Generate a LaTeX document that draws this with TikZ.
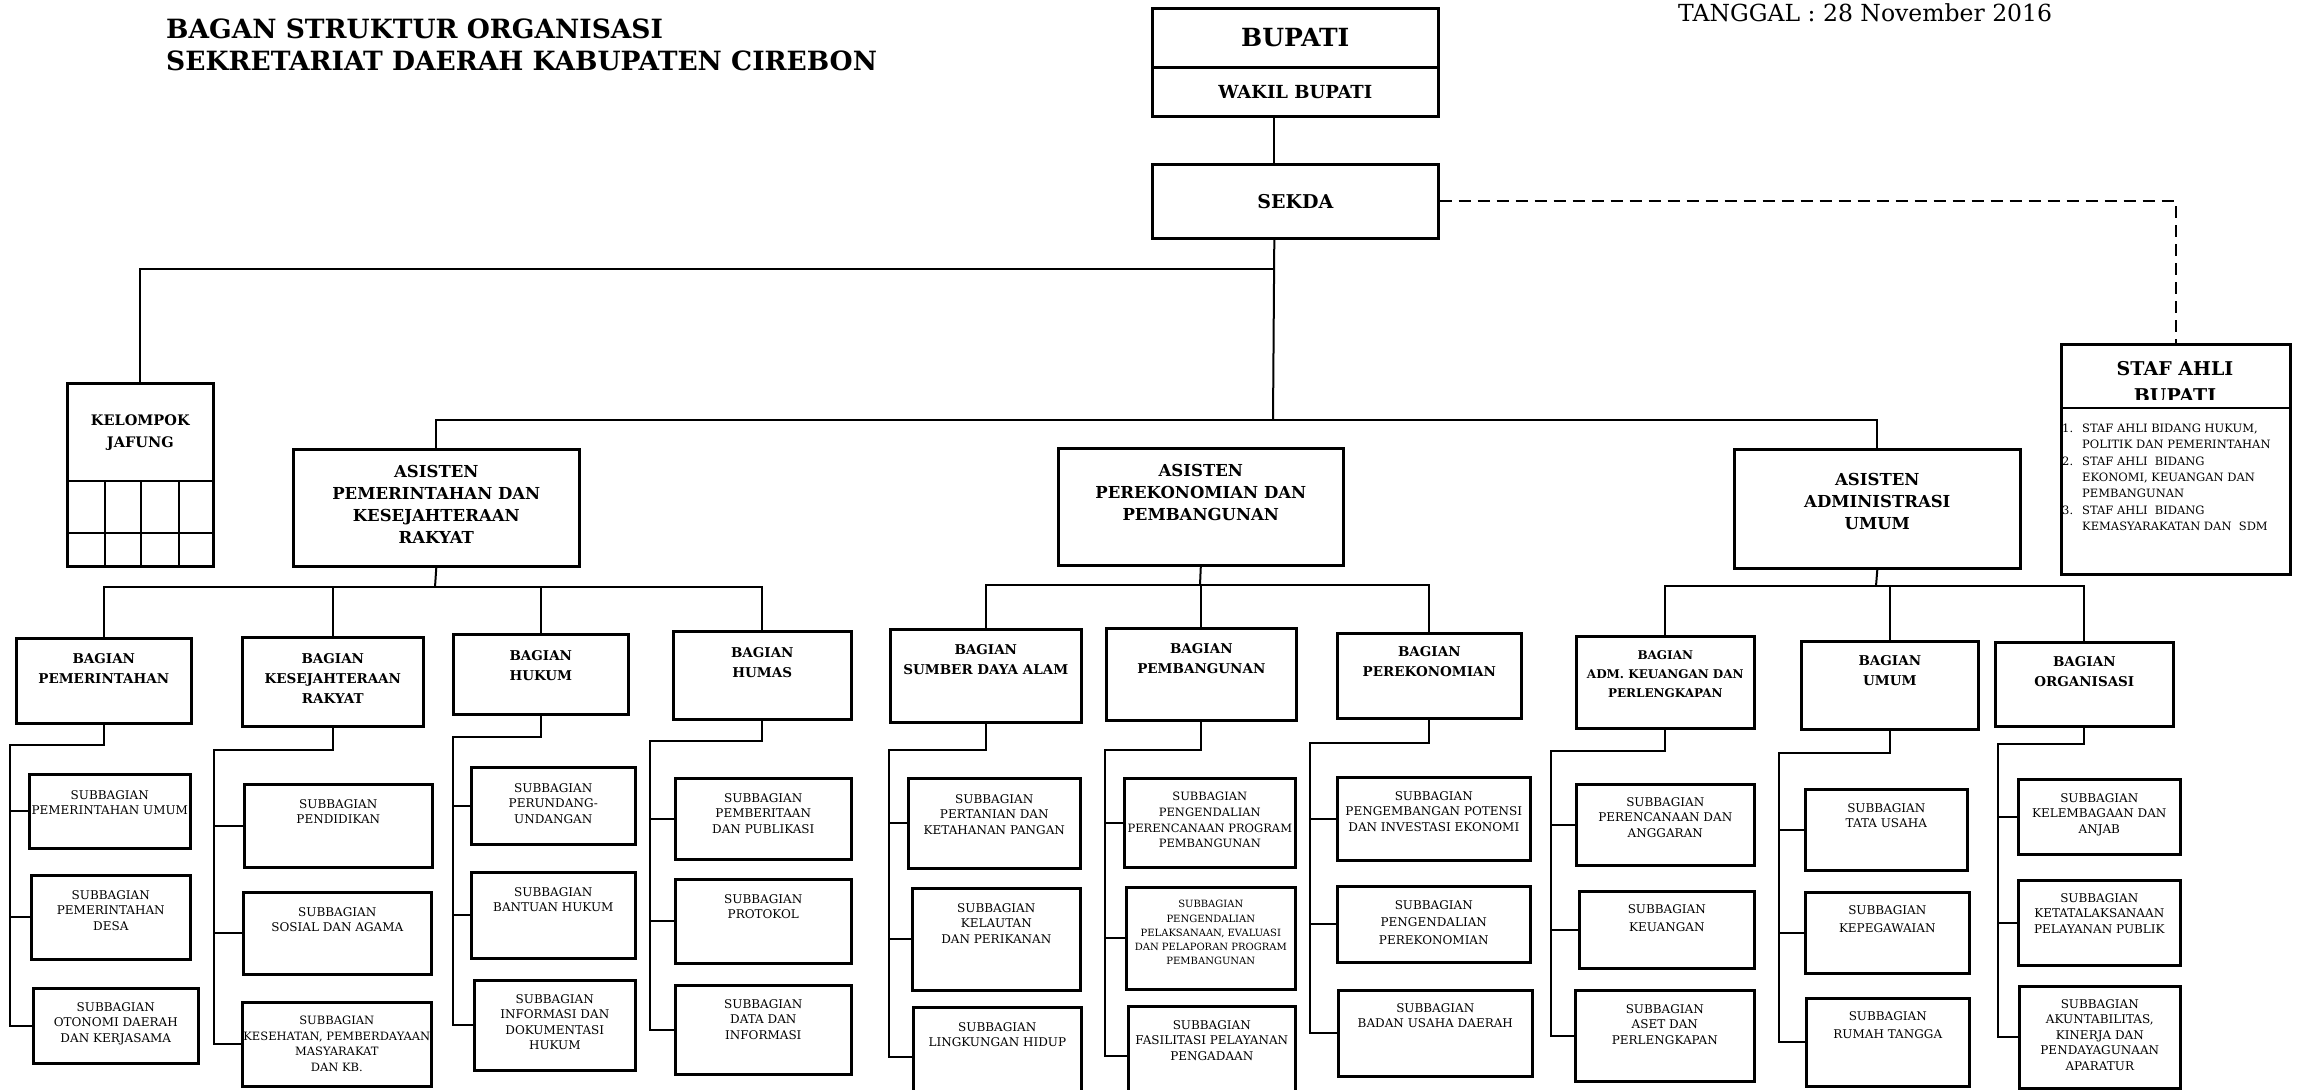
\documentclass[tikz,border=0pt]{standalone}
\usepackage{fontspec}
\setmainfont{DejaVu Serif}
% box text: width, height, top gap, lines
\newcommand{\ubox}[4]{\parbox[c][#2pt][t]{#1pt}{\centering\vspace*{#3pt}#4\par}}

\begin{document}
\begin{tikzpicture}[x=1pt, y=-1pt,
    link/.style={line width=2pt},
    unit/.style={draw, line width=2.6pt, inner sep=0pt, anchor=north west},
    judl/.style={anchor=base west, inner sep=0pt, font=\bfseries\fontsize{26.5}{32}\selectfont},
    asis/.style={unit, font=\bfseries\fontsize{16.5}{22}\selectfont},
    bag/.style={unit, font=\bfseries\fontsize{13.5}{20}\selectfont},
    sub/.style={unit, font=\fontsize{12}{15.5}\selectfont}]
    \useasboundingbox (0,0) rectangle (2298,1089);
    \clip (0,0) rectangle (2298,1089);
    \fill[white] (0,0) rectangle (2298,1089);

    % Heading
    \node[judl] (judul1) at (166,39) {BAGAN STRUKTUR ORGANISASI};
    \node[judl] (judul2) at (166,71) {SEKRETARIAT DAERAH KABUPATEN CIREBON};
    \node[anchor=base west, inner sep=0pt, font=\fontsize{23.5}{27}\selectfont] (tgl) at (1678,22) {TANGGAL : 28 November 2016};

    % Pimpinan
    \node[unit, minimum width=286pt, minimum height=59pt, font=\bfseries\fontsize{25}{30}\selectfont] (bupati) at (1151,7) {BUPATI};
    \node[unit, minimum width=286pt, minimum height=49pt, font=\bfseries\fontsize{18}{22}\selectfont] (wakil) at (1151,66) {WAKIL BUPATI};
    \node[unit, minimum width=286pt, minimum height=74pt, font=\bfseries\fontsize{19}{23}\selectfont] (sekda) at (1151,163) {SEKDA};

    % Kelompok jabatan fungsional
    \node[unit, font=\bfseries\fontsize{14.5}{22}\selectfont] (jafung) at (66,382) {\ubox{146}{183}{31}{KELOMPOK\\JAFUNG}};
    \draw[link] (66,481) -- (212,481);
    \draw[link] (66,533) -- (212,533);
    \draw[link] (105,481) -- (105,565);
    \draw[link] (141,481) -- (141,565);
    \draw[link] (179,481) -- (179,565);

    % Staf ahli
    \node[unit, minimum width=229pt, minimum height=230pt] (staf) at (2060,343) {};
    \draw[link] ([yshift=-65pt]staf.north west) -- ([yshift=-65pt]staf.north east);
    \node[anchor=base, inner sep=0pt, font=\bfseries\fontsize{19}{23}\selectfont] (stafT) at (2175,375) {STAF AHLI};
    \begin{scope}
        \clip (2060,343) rectangle (2289,399);
        \node[anchor=base, inner sep=0pt, font=\bfseries\fontsize{19}{23}\selectfont] (stafB) at (2175,402) {BUPATI};
    \end{scope}
    \node[anchor=north west, inner sep=0pt, font=\fontsize{11.5}{16.3}\selectfont] (stafL) at (2062,421) {\begin{tabular}{@{}p{20pt}@{}l@{}}
        1. & STAF AHLI BIDANG HUKUM,\\
           & POLITIK DAN PEMERINTAHAN\\
        2. & STAF AHLI\ \ BIDANG\\
           & EKONOMI, KEUANGAN DAN\\
           & PEMBANGUNAN\\
        3. & STAF AHLI\ \ BIDANG\\
           & KEMASYARAKATAN DAN\ \ SDM
    \end{tabular}};

    % Asisten
    \node[asis] (asPem) at (292,448) {\ubox{286}{117}{16}{ASISTEN\\PEMERINTAHAN DAN\\KESEJAHTERAAN\\RAKYAT}};
    \node[asis] (asEko) at (1057,447) {\ubox{285}{117}{16}{ASISTEN\\PEREKONOMIAN DAN\\PEMBANGUNAN}};
    \node[asis] (asAdm) at (1733,448) {\ubox{286}{119}{24}{ASISTEN\\ADMINISTRASI\\UMUM}};

    % Bagian
    \node[bag] (bPem) at (15,637) {\ubox{175}{85}{15}{BAGIAN\\PEMERINTAHAN}};
    \node[bag] (bKes) at (241,636) {\ubox{181}{89}{16}{BAGIAN\\KESEJAHTERAAN\\RAKYAT}};
    \node[bag] (bHuk) at (452,633) {\ubox{175}{80}{16}{BAGIAN\\HUKUM}};
    \node[bag] (bHum) at (672,630) {\ubox{178}{88}{16}{BAGIAN\\HUMAS}};
    \node[bag] (bSda) at (889,628) {\ubox{191}{93}{15}{BAGIAN\\SUMBER DAYA ALAM}};
    \node[bag] (bPbg) at (1105,627) {\ubox{190}{92}{15}{BAGIAN\\PEMBANGUNAN}};
    \node[bag] (bPek) at (1336,632) {\ubox{184}{85}{13}{BAGIAN\\PEREKONOMIAN}};
    \node[bag, font=\bfseries\fontsize{12}{19}\selectfont] (bKeu) at (1575,635) {\ubox{178}{92}{14}{BAGIAN\\ADM. KEUANGAN DAN\\PERLENGKAPAN}};
    \node[bag] (bUmu) at (1800,640) {\ubox{177}{88}{14}{BAGIAN\\UMUM}};
    \node[bag] (bOrg) at (1994,641) {\ubox{178}{84}{14}{BAGIAN\\ORGANISASI}};

    % Subbagian
    \node[sub] (sPemUm) at (28,773) {\ubox{161}{74}{16}{SUBBAGIAN\\PEMERINTAHAN UMUM}};
    \node[sub] (sPemDs) at (30,874) {\ubox{159}{84}{15}{SUBBAGIAN\\PEMERINTAHAN\\DESA}};
    \node[sub] (sOtda) at (32,987) {\ubox{165}{75}{14}{SUBBAGIAN\\OTONOMI DAERAH\\DAN KERJASAMA}};

    \node[sub] (sDik) at (243,783) {\ubox{188}{83}{15}{SUBBAGIAN\\PENDIDIKAN}};
    \node[sub] (sSos) at (242,891) {\ubox{188}{82}{15}{SUBBAGIAN\\SOSIAL DAN AGAMA}};
    \node[sub, font=\fontsize{11.5}{15.5}\selectfont] (sKes) at (241,1001) {\ubox{189}{84}{14}{SUBBAGIAN\\KESEHATAN, PEMBERDAYAAN\\MASYARAKAT\\DAN KB.}};

    \node[sub] (sUU) at (470,766) {\ubox{164}{77}{16}{SUBBAGIAN\\PERUNDANG-\\UNDANGAN}};
    \node[sub] (sBan) at (470,871) {\ubox{164}{86}{15}{SUBBAGIAN\\BANTUAN HUKUM}};
    \node[sub] (sInf) at (473,979) {\ubox{161}{90}{14}{SUBBAGIAN\\INFORMASI DAN\\DOKUMENTASI\\HUKUM}};

    \node[sub] (sBer) at (674,777) {\ubox{176}{81}{15}{SUBBAGIAN\\PEMBERITAAN\\DAN PUBLIKASI}};
    \node[sub] (sPro) at (674,878) {\ubox{176}{84}{15}{SUBBAGIAN\\PROTOKOL}};
    \node[sub] (sDat) at (674,984) {\ubox{176}{89}{14}{SUBBAGIAN\\DATA DAN\\INFORMASI}};

    \node[sub] (sTan) at (907,777) {\ubox{172}{90}{16}{SUBBAGIAN\\PERTANIAN DAN\\KETAHANAN PANGAN}};
    \node[sub] (sLaut) at (911,887) {\ubox{168}{102}{15}{SUBBAGIAN\\KELAUTAN\\DAN PERIKANAN}};
    \node[sub] (sLh) at (912,1006) {\ubox{168}{100}{15}{SUBBAGIAN\\LINGKUNGAN HIDUP}};

    \node[sub, font=\fontsize{11.5}{15.7}\selectfont] (sRen) at (1123,777) {\ubox{171}{89}{14}{SUBBAGIAN\\PENGENDALIAN\\PERENCANAAN PROGRAM\\PEMBANGUNAN}};
    \node[sub, font=\fontsize{10}{14.3}\selectfont] (sLak) at (1125,886) {\ubox{169}{102}{13}{SUBBAGIAN\\PENGENDALIAN\\PELAKSANAAN, EVALUASI\\DAN PELAPORAN PROGRAM\\PEMBANGUNAN}};
    \node[sub] (sFas) at (1127,1005) {\ubox{167}{100}{14}{SUBBAGIAN\\FASILITASI PELAYANAN\\PENGADAAN}};

    \node[sub] (sPot) at (1336,776) {\ubox{193}{83}{14}{SUBBAGIAN\\PENGEMBANGAN POTENSI\\DAN INVESTASI EKONOMI}};
    \node[sub, font=\fontsize{12}{17.5}\selectfont] (sDal) at (1336,885) {\ubox{193}{76}{14}{SUBBAGIAN\\PENGENDALIAN\\PEREKONOMIAN}};
    \node[sub] (sBud) at (1337,989) {\ubox{194}{86}{13}{SUBBAGIAN\\BADAN USAHA DAERAH}};

    \node[sub] (sAng) at (1575,783) {\ubox{178}{81}{13}{SUBBAGIAN\\PERENCANAAN DAN\\ANGGARAN}};
    \node[sub, font=\fontsize{12}{18}\selectfont] (sKeu) at (1578,890) {\ubox{175}{77}{13}{SUBBAGIAN\\KEUANGAN}};
    \node[sub] (sAset) at (1574,989) {\ubox{179}{91}{14}{SUBBAGIAN\\ASET DAN\\PERLENGKAPAN}};

    \node[sub] (sTu) at (1804,788) {\ubox{162}{81}{14}{SUBBAGIAN\\TATA USAHA}};
    \node[sub, font=\fontsize{12}{18}\selectfont] (sPeg) at (1804,891) {\ubox{164}{81}{13}{SUBBAGIAN\\KEPEGAWAIAN}};
    \node[sub, font=\fontsize{12}{18}\selectfont] (sRt) at (1805,997) {\ubox{163}{88}{13}{SUBBAGIAN\\RUMAH TANGGA}};

    \node[sub] (sLem) at (2017,778) {\ubox{162}{75}{14}{SUBBAGIAN\\KELEMBAGAAN DAN\\ANJAB}};
    \node[sub] (sTl) at (2017,879) {\ubox{162}{85}{13}{SUBBAGIAN\\KETATALAKSANAAN\\PELAYANAN PUBLIK}};
    \node[sub] (sAkip) at (2018,985) {\ubox{161}{102}{13}{SUBBAGIAN\\AKUNTABILITAS,\\KINERJA DAN\\PENDAYAGUNAAN\\APARATUR}};

    % Garis komando atas
    \draw[link] ([xshift=-21pt]wakil.south) -- ([xshift=-21pt]sekda.north);
    \coordinate (hubA) at (1273,420);
    \draw[link] ([xshift=-21pt]sekda.south) -- (hubA);
    \draw[link] (1273,269) -| (jafung.north);
    \draw[link] (asPem.north) |- (hubA) -| (asAdm.north);
    \draw[link, dash pattern=on 12pt off 7pt] (sekda.east) -| (staf.north);

    % Asisten ke bagian
    \coordinate (hubP) at (435,587);
    \draw[link] (asPem.south) -- (hubP);
    \draw[link] (bPem.north) |- (hubP) -| (bHum.north);
    \draw[link] (hubP -| bKes.north) -- (bKes.north);
    \draw[link] (hubP -| bHuk.north) -- (bHuk.north);

    \coordinate (hubE) at (1200,585);
    \draw[link] (asEko.south) -- (hubE);
    \draw[link] (bSda.north) |- (hubE) -| (bPek.north);
    \draw[link] (hubE -| bPbg.north) -- (bPbg.north);

    \coordinate (hubU) at (1876,586);
    \draw[link] (asAdm.south) -- (hubU);
    \draw[link] (bKeu.north) |- (hubU) -| (bOrg.north);
    \draw[link] (hubU -| bUmu.north) -- (bUmu.north);

    % Bagian ke subbagian
    \coordinate (spPem) at (10,745);
    \draw[link] (bPem.south) |- (spPem) |- (sOtda.west);
    \draw[link] (spPem |- sPemUm.west) -- (sPemUm.west);
    \draw[link] (spPem |- sPemDs.west) -- (sPemDs.west);

    \coordinate (spKes) at (214,750);
    \draw[link] (bKes.south) |- (spKes) |- (sKes.west);
    \draw[link] (spKes |- sDik.west) -- (sDik.west);
    \draw[link] (spKes |- sSos.west) -- (sSos.west);

    \coordinate (spHuk) at (453,737);
    \draw[link] (bHuk.south) |- (spHuk) |- (sInf.west);
    \draw[link] (spHuk |- sUU.west) -- (sUU.west);
    \draw[link] (spHuk |- sBan.west) -- (sBan.west);

    \coordinate (spHum) at (650,741);
    \draw[link] (bHum.south) |- (spHum) |- (sDat.west);
    \draw[link] (spHum |- sBer.west) -- (sBer.west);
    \draw[link] (spHum |- sPro.west) -- (sPro.west);

    \coordinate (spSda) at (889,750);
    \draw[link] (bSda.south) |- (spSda) |- (sLh.west);
    \draw[link] (spSda |- sTan.west) -- (sTan.west);
    \draw[link] (spSda |- sLaut.west) -- (sLaut.west);

    \coordinate (spPbg) at (1105,750);
    \draw[link] (bPbg.south) |- (spPbg) |- (sFas.west);
    \draw[link] (spPbg |- sRen.west) -- (sRen.west);
    \draw[link] (spPbg |- sLak.west) -- (sLak.west);

    \coordinate (spPek) at (1310,743);
    \draw[link] (bPek.south) |- (spPek) |- (sBud.west);
    \draw[link] (spPek |- sPot.west) -- (sPot.west);
    \draw[link] (spPek |- sDal.west) -- (sDal.west);

    \coordinate (spKeu) at (1551,751);
    \draw[link] (bKeu.south) |- (spKeu) |- (sAset.west);
    \draw[link] (spKeu |- sAng.west) -- (sAng.west);
    \draw[link] (spKeu |- sKeu.west) -- (sKeu.west);

    \coordinate (spUmu) at (1779,753);
    \draw[link] (bUmu.south) |- (spUmu) |- (sRt.west);
    \draw[link] (spUmu |- sTu.west) -- (sTu.west);
    \draw[link] (spUmu |- sPeg.west) -- (sPeg.west);

    \coordinate (spOrg) at (1998,744);
    \draw[link] (bOrg.south) |- (spOrg) |- (sAkip.west);
    \draw[link] (spOrg |- sLem.west) -- (sLem.west);
    \draw[link] (spOrg |- sTl.west) -- (sTl.west);
\end{tikzpicture}
\end{document}
